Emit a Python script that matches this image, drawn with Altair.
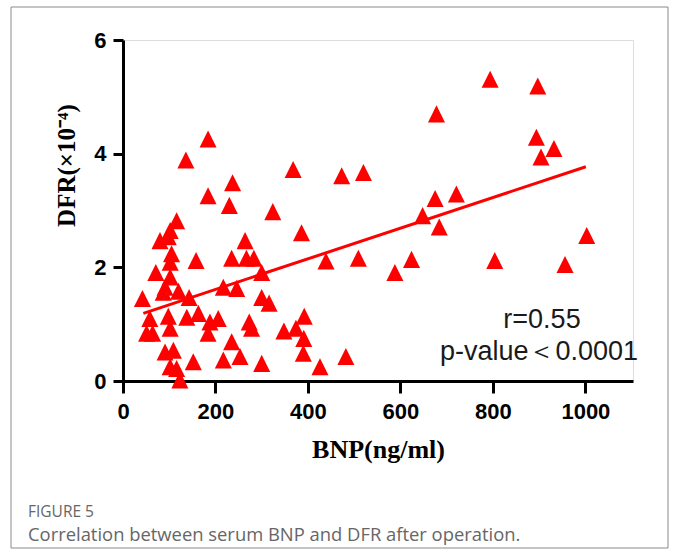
import altair as alt
import pandas as pd

# Data
bnp = [42, 58, 51, 64, 71, 80, 98, 102, 116, 136, 184, 184, 237, 230, 158, 105, 102, 102, 91, 87,
       120, 143, 98, 138, 163, 102, 188, 206, 184, 91, 109, 102, 116, 123, 152, 217, 235, 253, 300, 217,
       246, 235, 264, 267, 283, 300, 300, 316, 273, 278, 324, 368, 386, 348, 374, 392, 391, 390, 426, 439,
       473, 520, 482, 509, 588, 794, 897, 678, 894, 932, 904, 675, 721, 648, 684, 624, 804, 956, 1003]
dfr = [1.45, 1.10, 0.84, 0.84, 1.91, 2.47, 2.54, 2.65, 2.82, 3.89, 4.26, 3.26, 3.49, 3.09, 2.12, 2.24, 2.09, 1.83, 1.65, 1.56,
       1.58, 1.47, 1.14, 1.12, 1.19, 0.93, 1.04, 1.10, 0.84, 0.51, 0.54, 0.25, 0.22, 0.02, 0.34, 0.37, 0.69, 0.43, 0.31, 1.65,
       1.63, 2.16, 2.47, 2.16, 2.16, 1.91, 1.47, 1.37, 1.04, 0.93, 2.98, 3.72, 2.61, 0.88, 0.93, 1.14, 0.75, 0.49, 0.25, 2.11,
       3.61, 3.67, 0.43, 2.16, 1.91, 5.31, 5.19, 4.70, 4.29, 4.09, 3.94, 3.21, 3.29, 2.91, 2.71, 2.14, 2.12, 2.05, 2.56]
fit_x = [44, 1001]
fit_y = [1.19, 3.77]
x_ticks = [0, 200, 400, 600, 800, 1000]
y_ticks = [0, 2, 4, 6]
stat_lines = ["r=0.55", "p-value\uff1c0.0001"]
fig_label = "FIGURE 5"
caption = "Correlation between serum BNP and DFR after operation."

pts = pd.DataFrame({"BNP": bnp, "DFR": dfr})
fit = pd.DataFrame({"BNP": fit_x, "DFR": fit_y})
one = pd.DataFrame({"k": [0]})

xscale = alt.Scale(domain=[0, 1103], nice=False, zero=False)
yscale = alt.Scale(domain=[0, 6], nice=False)

xaxis = alt.Axis(values=x_ticks, format="d", title="BNP(ng/ml)", grid=False,
                 domainColor="black", domainWidth=3, tickColor="black", tickWidth=3, tickSize=12,
                 labelFont="Liberation Sans", labelFontWeight="bold", labelFontSize=22, labelColor="black",
                 labelPadding=8, labelFlush=False,
                 titleFont="Liberation Serif", titleFontWeight="bold", titleFontSize=26, titleColor="black",
                 titlePadding=14)
yaxis = alt.Axis(values=y_ticks, format="d", title="DFR(\u00d710\u207b\u2074)", grid=False,
                 domainColor="black", domainWidth=3, tickColor="black", tickWidth=3, tickSize=10,
                 labelFont="Liberation Sans", labelFontWeight="bold", labelFontSize=22, labelColor="black",
                 labelPadding=7, labelFlush=False,
                 titleFont="Liberation Serif", titleFontWeight="bold", titleFontSize=25, titleColor="black",
                 titleAngle=270, titleAlign="center", titleBaseline="middle", titleX=-57, titleY=125)

border = alt.Chart(one).mark_rect(fill=None, stroke="#8a8a8a", strokeWidth=1).encode(
    x=alt.value(-112), x2=alt.value(545), y=alt.value(-33), y2=alt.value(508))

points = alt.Chart(pts).mark_point(
    shape="M0,-1L1,1L-1,1Z", filled=True, fill="#ff0000", color="#ff0000", opacity=1, size=290, strokeWidth=0
).encode(
    x=alt.X("BNP:Q", scale=xscale, axis=xaxis),
    y=alt.Y("DFR:Q", scale=yscale, axis=yaxis),
)

line = alt.Chart(fit).mark_line(color="#ff0000", strokeWidth=3).encode(
    x=alt.X("BNP:Q", scale=xscale), y=alt.Y("DFR:Q", scale=yscale))

stat1 = alt.Chart(one).mark_text(text=stat_lines[0], font="Liberation Sans", fontSize=27, color="#1a1a1a",
                                 align="center", baseline="alphabetic").encode(x=alt.value(419), y=alt.value(288))
stat2 = alt.Chart(one).mark_text(text=stat_lines[1], font="Liberation Sans", fontSize=27, color="#1a1a1a",
                                 align="center", baseline="alphabetic").encode(x=alt.value(416), y=alt.value(320))

figlab = alt.Chart(one).mark_text(text=fig_label, font="Open Sans", fontSize=15.5, color="#666666",
                                  align="left", baseline="alphabetic").encode(x=alt.value(-95), y=alt.value(477))
cap = alt.Chart(one).mark_text(text=caption, font="Open Sans", fontSize=18.4, color="#666666",
                               align="left", baseline="alphabetic").encode(x=alt.value(-95), y=alt.value(501))

chart = alt.layer(border, line, points, stat1, stat2, figlab, cap).properties(
    width=510, height=341,
    autosize=alt.AutoSizeParams(type="none"),
    padding={"left": 123, "top": 40, "right": 47, "bottom": 174},
).configure_view(stroke=None).configure(background="white")

chart.save("out.html", embed_options={"renderer": "svg", "actions": False})
